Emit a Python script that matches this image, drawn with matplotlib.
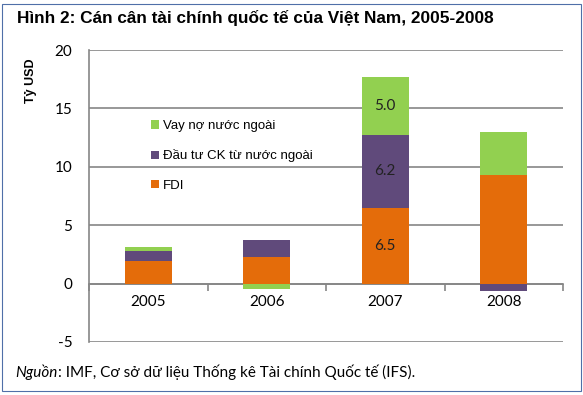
import numpy as np
import matplotlib.pyplot as plt
from matplotlib.patches import Rectangle

plt.rcParams["axes.unicode_minus"] = False

years = ["2005", "2006", "2007", "2008"]
fdi = [1.9, 2.3, 6.5, 9.3]
dau_tu_ck = [0.85, 1.4, 6.2, -0.6]
vay_no = [0.35, -0.5, 5.0, 3.7]

series = [
    ("FDI", fdi, "#E46C0A"),
    ("Đầu tư CK từ nước ngoài", dau_tu_ck, "#604A7B"),
    ("Vay nợ nước ngoài", vay_no, "#92D050"),
]

fig = plt.figure(figsize=(5.83, 3.95), dpi=100)
ax = fig.add_axes([0.1527, 0.1342, 0.813, 0.7392])

x = np.arange(len(years))
pos_base = np.zeros(len(years))
neg_base = np.zeros(len(years))
handles = []
for name, vals, col in series:
    vals = np.array(vals)
    bottoms = np.where(vals >= 0, pos_base, neg_base)
    b = ax.bar(x, vals, 0.4, bottom=bottoms, color=col, label=name, zorder=3)
    handles.append(b)
    pos_base = pos_base + np.where(vals >= 0, vals, 0)
    neg_base = neg_base + np.where(vals < 0, vals, 0)

# data labels for 2007
lbl_base = 0
for name, vals, col in series:
    v = vals[2]
    ax.text(2, lbl_base + v / 2, f"{v:.1f}", ha="center", va="center",
            fontsize=11, family="Lato", color="#222222", zorder=4)
    lbl_base += v

ax.set_xlim(-0.5, 3.5)
ax.set_ylim(-5, 20)
ax.set_yticks([-5, 0, 5, 10, 15, 20])
ax.yaxis.grid(True, color="#868686", linewidth=1.2, zorder=0)
ax.set_axisbelow(True)

for s in ["top", "right"]:
    ax.spines[s].set_visible(False)
ax.spines["left"].set_color("#868686")
ax.spines["left"].set_linewidth(1.2)
ax.spines["bottom"].set_position(("data", 0))
ax.spines["bottom"].set_color("#868686")
ax.spines["bottom"].set_linewidth(1.2)

ax.set_xticks(x)
ax.set_xticklabels(years, family="Lato", fontsize=11)
ax.set_xticks([-0.5, 0.5, 1.5, 2.5, 3.5], minor=True)
ax.tick_params(axis="x", which="major", length=0, pad=8)
ax.tick_params(axis="x", which="minor", length=5, color="#868686", width=1.2, direction="out")
ax.tick_params(axis="y", length=0, pad=12, labelsize=11)
for t in ax.get_yticklabels():
    t.set_family("Lato")

ax.text(-0.123, 0.97, "Tỷ USD", transform=ax.transAxes, rotation=90,
        ha="center", va="top", fontsize=9, fontweight="bold", family="Liberation Sans")

leg = ax.legend(handles=handles[::-1], loc="upper left", bbox_to_anchor=(0.105, 0.80),
                frameon=False, handlelength=0.6, handleheight=0.6,
                handletextpad=0.3, labelspacing=1.3, prop={"family": "Liberation Sans", "size": 9.5})

fig.text(0.03, 0.955, "Hình 2: Cán cân tài chính quốc tế của Việt Nam, 2005-2008",
         fontsize=12.4, fontweight="bold", family="Liberation Sans", va="center")

# source line: italic word then the rest right after it
src1 = fig.text(0.027, 0.057, "Nguồn", fontsize=11, style="italic", family="Lato", va="center")
fig.canvas.draw()
bb = src1.get_window_extent(renderer=fig.canvas.get_renderer())
x_end = bb.x1 / fig.bbox.width
fig.text(x_end, 0.057, ": IMF, Cơ sở dữ liệu Thống kê Tài chính Quốc tế (IFS).",
         fontsize=11, family="Lato", va="center")

fig.patches.append(Rectangle((0.004, 0.01), 0.992, 0.98, transform=fig.transFigure,
                             fill=False, edgecolor="#4F6FA8", linewidth=0.8))

fig.savefig("out.png", dpi=100)
